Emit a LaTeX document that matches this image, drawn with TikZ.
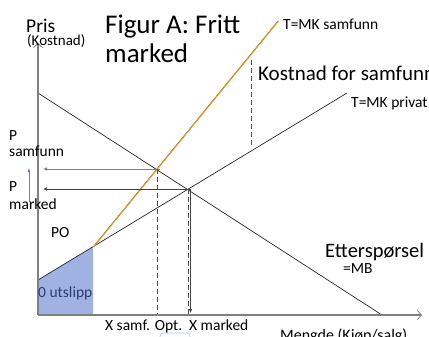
\documentclass[tikz,border=0pt]{standalone}
\usepackage{fontspec}
\setmainfont{Carlito}
\usetikzlibrary{arrows.meta}
\newcommand{\txtsize}[1]{\fontsize{#1}{#1}\selectfont}
\definecolor{mkorange}{RGB}{232,160,30}
\definecolor{fillblue}{RGB}{160,178,226}
\definecolor{textblue}{RGB}{45,60,110}
\definecolor{arrowblue}{RGB}{90,130,210}

\begin{document}
\begin{tikzpicture}[x=1pt,y=-1pt,
    lbl/.style={inner sep=0pt,anchor=base west},
    axis/.style={draw=gray,line width=1.2pt,-{Straight Barb[length=4pt,width=9pt,line width=0.8pt]}},
    curve/.style={draw=black!85,line width=0.7pt},
    pointer/.style={line width=0.7pt,-{Latex[length=4pt,width=3.5pt]}},
    guide/.style={dash pattern=on 5pt off 3pt,draw=black!70,line width=0.7pt}]
    \useasboundingbox (0,0) rectangle (429,337);
    % points
    \coordinate (o) at (38,315);
    \coordinate (ytop) at (38,43);
    \coordinate (xend) at (422,315);
    \coordinate (d1) at (38,93);
    \coordinate (d2) at (382,315);
    \coordinate (s1) at (38,280);
    \coordinate (s2) at (347,93);
    \coordinate (k) at (93,247);
    \coordinate (kb) at (93,315);
    \coordinate (ss) at (278,21);
    \coordinate (es) at (157,169);
    \coordinate (em) at (188,189);
    % shaded area
    \fill[fillblue] (s1) -- (k) -- (kb) -- (o) -- cycle;
    % curves
    \draw[curve] (d1) -- (d2);
    \draw[curve] (s1) -- (s2);
    \draw[black!70,line width=0.6pt] (k) -- (ss);
    \draw[mkorange,line width=1pt] ([xshift=0.6pt]k) -- ([xshift=0.6pt]ss);
    % guides
    \draw[pointer,gray] ([xshift=3pt]es) -- (43,169);
    \draw[pointer,black!75] ([xshift=2pt]em) -- (43,189);
    \draw[guide] (es) -- (157,315);
    \draw[guide] (em) -- (188,315);
    \draw[pointer,black!75] ([xshift=2.5pt]em) -- (190.5,313);
    \draw[guide] (251,60) -- (251,147);
    \draw[arrowblue,line width=0.5pt,-{Latex[length=4pt,width=3pt]}] (29,202) -- (29,168);
    \draw[arrowblue!50,line width=0.8pt,rounded corners=3pt] (160,345) -- (160,333) -- (190,333) -- (190,345);
    % axes
    \draw[axis] (o) -- (ytop);
    \draw[axis] (o) -- (xend);
    % labels
    \node[lbl] (pris) at (26,33) {\txtsize{19.5}Pris};
    \node[lbl] (kost) at (27,46) {\txtsize{15}(Kostnad)};
    \node[lbl] (tit1) at (105,34) {\txtsize{27}Figur A: Fritt};
    \node[lbl] (tit2) at (105,63) {\txtsize{27}marked};
    \node[lbl] (mks) at (283,30) {\txtsize{15.5}T=MK samfunn};
    \node[lbl] (ksam) at (258,81) {\txtsize{21}Kostnad for samfunn};
    \node[lbl] (mkp) at (351,108) {\txtsize{15.5}T=MK privat};
    \node[lbl] (ps1) at (9,140) {\txtsize{15.5}P};
    \node[lbl] (ps2) at (9,157) {\txtsize{15.5}samfunn};
    \node[lbl] (pm1) at (9,191) {\txtsize{15.5}P};
    \node[lbl] (pm2) at (9,209) {\txtsize{15.5}marked};
    \node[lbl] (po) at (51,237) {\txtsize{15.5}PO};
    \node[lbl,text=textblue] (null) at (38,297) {\txtsize{15.5}0 utslipp};
    \node[lbl] (ett) at (325,257) {\txtsize{20.5}Etterspørsel};
    \node[lbl] (mb) at (343,273) {\txtsize{15.5}=MB};
    \node[lbl] (xs) at (105,330) {\txtsize{15.5}X samf. Opt.};
    \node[lbl] (xm) at (189,330) {\txtsize{15.5}X marked};
    \node[lbl] (meng) at (280,340) {\txtsize{16}Mengde (Kjøp/salg)};
\end{tikzpicture}
\end{document}
